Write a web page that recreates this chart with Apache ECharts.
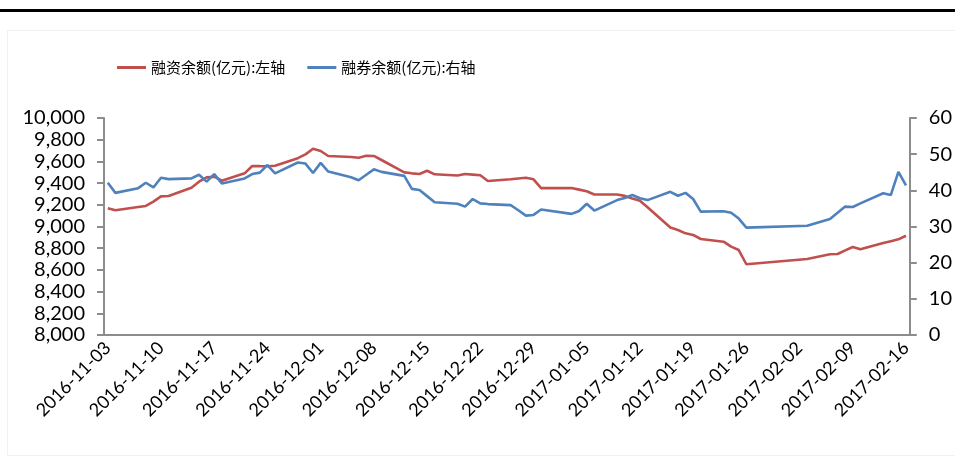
<!DOCTYPE html>
<html>
<head>
<meta charset="utf-8">
<script src="https://cdn.jsdelivr.net/npm/echarts@6/dist/echarts.min.js"></script>
<style>
    html, body { margin: 0; padding: 0; background: #fff; }
    #chart { width: 955px; height: 470px; }
</style>
</head>
<body>
<div id="chart"></div>
<script>
// trading days and the two balances
var tradeDates = [
    '2016-11-03', '2016-11-04', '2016-11-07', '2016-11-08', '2016-11-09', '2016-11-10', '2016-11-11',
    '2016-11-14', '2016-11-15', '2016-11-16', '2016-11-17', '2016-11-18',
    '2016-11-21', '2016-11-22', '2016-11-23', '2016-11-24', '2016-11-25',
    '2016-11-28', '2016-11-29', '2016-11-30', '2016-12-01', '2016-12-02',
    '2016-12-05', '2016-12-06', '2016-12-07', '2016-12-08', '2016-12-09',
    '2016-12-12', '2016-12-13', '2016-12-14', '2016-12-15', '2016-12-16',
    '2016-12-19', '2016-12-20', '2016-12-21', '2016-12-22', '2016-12-23',
    '2016-12-26', '2016-12-27', '2016-12-28', '2016-12-29', '2016-12-30',
    '2017-01-03', '2017-01-04', '2017-01-05', '2017-01-06',
    '2017-01-09', '2017-01-10', '2017-01-11', '2017-01-12', '2017-01-13',
    '2017-01-16', '2017-01-17', '2017-01-18', '2017-01-19', '2017-01-20',
    '2017-01-23', '2017-01-24', '2017-01-25', '2017-01-26',
    '2017-02-03', '2017-02-06', '2017-02-07', '2017-02-08', '2017-02-09', '2017-02-10',
    '2017-02-13', '2017-02-14', '2017-02-15', '2017-02-16'
]

// 融资余额 (left axis)
var financingBalance = [
    9168, 9149, 9179, 9189, 9229, 9278, 9281,
    9358, 9413, 9453, 9459, 9422,
    9490, 9558, 9556, 9555, 9560,
    9630, 9665, 9717, 9696, 9650,
    9640, 9634, 9652, 9650, 9613,
    9499, 9490, 9484, 9514, 9481,
    9470, 9484, 9478, 9472, 9419,
    9435, 9443, 9450, 9435, 9354,
    9354, 9340, 9325, 9295,
    9295, 9282, 9258, 9238, 9178,
    8990, 8968, 8937, 8922, 8885,
    8860, 8814, 8783, 8652,
    8700, 8744, 8747, 8780, 8811, 8790,
    8848, 8865, 8882, 8915
]

// 融券余额 (right axis)
var securitiesLending = [
    42.1, 39.3, 40.6, 42.1, 40.8, 43.5, 43.1,
    43.3, 44.3, 42.4, 44.5, 41.9,
    43.3, 44.5, 44.9, 47.0, 44.7,
    47.7, 47.4, 44.8, 47.6, 45.2,
    43.6, 42.8, 44.3, 45.8, 45.1,
    44.0, 40.4, 40.1, 38.4, 36.7,
    36.3, 35.5, 37.6, 36.4, 36.2,
    35.9, 34.5, 33.0, 33.2, 34.7,
    33.5, 34.3, 36.3, 34.4,
    37.3, 37.9, 38.7, 37.8, 37.3,
    39.6, 38.5, 39.3, 37.6, 34.1,
    34.2, 33.8, 32.2, 29.7,
    30.2, 32.1, 33.8, 35.5, 35.4, 36.4,
    39.2, 38.7, 45.1, 41.4
]

var seriesNames = ['融资余额(亿元):左轴', '融券余额(亿元):右轴']
var firstDay = '2016-11-03'
var lastDay = '2017-02-16'

// date axis: one slot per calendar day, non-trading days left empty
function pad(n) { return n < 10 ? '0' + n : '' + n }
var calendarDays = []
var t = Date.parse(firstDay + 'T00:00:00Z')
var tEnd = Date.parse(lastDay + 'T00:00:00Z')
while (t <= tEnd) {
    var d = new Date(t)
    calendarDays.push(d.getUTCFullYear() + '-' + pad(d.getUTCMonth() + 1) + '-' + pad(d.getUTCDate()))
    t += 86400000
}

function onCalendar(values) {
    var lookup = {}
    tradeDates.forEach(function (day, i) { lookup[day] = values[i] })
    return calendarDays.map(function (day) {
        return lookup.hasOwnProperty(day) ? lookup[day] : null
    })
}

var axisGray = '#8c8c8c'
var numFont = 'Lato'

var chart = echarts.init(document.getElementById('chart'))
var option = {
    animation: false,
    backgroundColor: '#fff',
    color: ['#C0504D', '#4F81BD'],
    graphic: [{
        type: 'rect',
        shape: { x: 7.5, y: 30.5, width: 960, height: 425 },
        style: { fill: 'none', stroke: '#f1f1f1', lineWidth: 1 },
        silent: true
    }, {
        type: 'line',
        shape: { x1: 0, y1: 10.5, x2: 955, y2: 10.5 },
        style: { stroke: '#000', lineWidth: 3 },
        silent: true
    }],
    legend: {
        left: 112,
        top: 55,
        itemWidth: 29,
        itemHeight: 3,
        itemGap: 22,
        icon: 'rect',
        textStyle: {
            fontFamily: 'Noto Sans CJK SC',
            fontSize: 15,
            color: '#000'
        },
        data: seriesNames
    },
    grid: {
        left: 104,
        right: 42,
        top: 118,
        bottom: 135
    },
    xAxis: {
        type: 'category',
        boundaryGap: true,
        data: calendarDays,
        axisLine: { lineStyle: { color: axisGray, width: 2 } },
        axisTick: {
            interval: 6,
            length: 6,
            lineStyle: { color: axisGray, width: 2 }
        },
        axisLabel: {
            interval: 6,
            rotate: 45,
            margin: 10,
            fontFamily: numFont,
            fontSize: 18,
            color: '#000'
        },
        splitLine: { show: false }
    },
    yAxis: [{
        type: 'value',
        min: 8000,
        max: 10000,
        interval: 200,
        position: 'left',
        axisLine: { show: true, lineStyle: { color: axisGray, width: 2 } },
        axisTick: { show: true, length: 7, lineStyle: { color: axisGray, width: 2 } },
        axisLabel: {
            margin: 19,
            fontFamily: numFont,
            fontSize: 20,
            color: '#000',
            formatter: function (val) {
                return String(val).replace(/\B(?=(\d{3})+(?!\d))/g, ',')
            }
        },
        splitLine: { show: false }
    }, {
        type: 'value',
        min: 0,
        max: 60,
        interval: 10,
        position: 'right',
        axisLine: { show: true, lineStyle: { color: axisGray, width: 2 } },
        axisTick: { show: true, length: 7, lineStyle: { color: axisGray, width: 2 } },
        axisLabel: {
            margin: 19,
            fontFamily: numFont,
            fontSize: 20,
            color: '#000'
        },
        splitLine: { show: false }
    }],
    series: [{
        name: seriesNames[0],
        type: 'line',
        yAxisIndex: 0,
        symbol: 'none',
        connectNulls: true,
        lineStyle: { width: 2.6, color: '#C0504D' },
        data: onCalendar(financingBalance)
    }, {
        name: seriesNames[1],
        type: 'line',
        yAxisIndex: 1,
        symbol: 'none',
        connectNulls: true,
        lineStyle: { width: 2.6, color: '#4F81BD' },
        data: onCalendar(securitiesLending)
    }]
}
chart.setOption(option)
</script>
</body>
</html>
